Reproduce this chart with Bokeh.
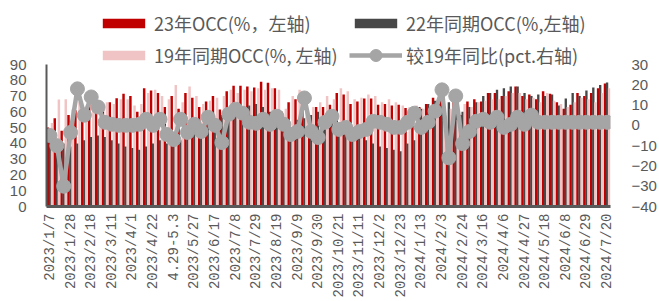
from bokeh.plotting import figure
from bokeh.models import (Range1d, LinearAxis, FixedTicker, Legend, LegendItem,
                          ColumnDataSource)
from bokeh.transform import dodge
from bokeh.embed import file_html
from bokeh.resources import INLINE

tick_labels = ["2023/1/7", "2023/1/28", "2023/2/18", "2023/3/11", "2023/4/1",
               "2023/4/22", "4.29-5.3", "2023/5/27", "2023/6/17", "2023/7/8",
               "2023/7/29", "2023/8/19", "2023/9/9", "2023/9/30", "2023/10/21",
               "2023/11/11", "2023/12/2", "2023/12/23", "2024/1/13", "2024/2/3",
               "2024/2/24", "2024/3/16", "2024/4/6", "2024/4/27", "2024/5/18",
               "2024/6/8", "2024/6/29", "2024/7/20"]

occ_23 = [50, 56, 48, 58, 61, 55, 66, 66, 64, 66, 68.6, 71.5, 70, 60, 75, 73.5, 72, 63,
          70, 62, 72, 69, 63, 66.5, 70, 61.5, 73, 76.5, 76.5, 76, 75.5, 79, 78.5, 75,
          60, 66, 68, 61.5, 55, 63, 63, 64.5, 72, 71, 65, 66.5, 68.5, 68.5, 64.5, 65,
          64, 64.5, 62.5, 51, 63, 65, 69, 70, 45, 68, 58, 66.5, 68, 66.5, 72, 72, 70,
          73, 76, 70, 71, 68, 73, 71.5, 66, 62, 64.5, 72, 70, 72, 75, 78]
occ_22 = [45, 42, 40, 38, 40, 42, 44, 45, 44, 42, 40, 38, 37, 36, 38, 40, 42, 40, 40,
          42, 45, 48, 52, 55, 56, 58, 60, 62, 63, 64, 65, 63, 60, 56, 52, 50, 55, 56,
          58, 60, 58, 55, 52, 50, 48, 45, 42, 40, 38, 37, 36, 35, 40, 42,
          62, 65, 67, 70, 66, 62, 60, 63, 66, 70, 72, 74, 75, 76, 76, 72, 70, 71, 70,
          71, 64, 68.5, 72, 70, 73.5, 75.5, 77, 78.6]
occ_19 = [53, 67.8, 68, 61.5, 66, 57, 66, 65, 66, 65, 68, 68, 64, 65, 72, 74, 70, 68,
          77, 66, 76, 70, 65, 67, 69, 70, 74, 72, 74, 73, 75, 74, 75, 74, 62, 70, 74,
          72, 63, 66, 70, 68, 75, 73, 68, 69, 71, 70, 66, 68, 66, 64, 63, 64,
          62, 64, 66, 55, 62, 55, 65, 63, 66, 67, 68, 68, 70, 72, 72, 68, 69, 66, 72,
          67, 65, 63, 66, 69, 68, 66, 72, 75]
yoy_19 = [-5, -10, -30, -3.5, 18, 5, 14, 9, 1.5, 0.5, 0, 0, 0, 0.5, 3, 0, 3, -4.5, -7,
          3, -3.5, 0.5, -3, 4, 0, -8.5, 5.5, 8, 6, 1.5, 1, 3, 0.5, 4.5, 0.5, -4.5, -3,
          13.5, -3, -6, 1.5, 4.5, -2, -1, -4.5, -3, -2, 2, 1.5, 0.5, -1, -1, 1.5, 6,
          -1, 1.5, 7, 17.5, -16, 14.5, -9, -3, 2, 3, 1.5, 4, -1, 0.5, 4, 0.5, 5,
          1.5, 1.5, 1.5, 1.5, 1.5, 1.5, 1.5, 1.5, 1.5, 1.5, 1.5]

left_ticks = [0, 10, 20, 30, 40, 50, 60, 70, 80, 90]
right_ticks = [-40, -30, -20, -10, 0, 10, 20, 30]

RED = "#C00000"
DARK = "#474747"
PINK = "#F0C4C4"
LINE = "#A5A5A5"
TXT = "#595959"

# frame is 206 px tall; the data part (0..90 / -40..30) is its lower 142 px,
# the upper part holds the legend
FRAME_H, DATA_H = 206.0, 142.0
left_top = left_ticks[-1] * FRAME_H / DATA_H
right_top = right_ticks[0] + (right_ticks[-1] - right_ticks[0]) * FRAME_H / DATA_H

n = len(occ_23)
src = ColumnDataSource(dict(x=list(range(n)), a=occ_23, b=occ_22, c=occ_19, d=yoy_19))

p = figure(width=659, height=301, output_backend="svg", toolbar_location=None,
           x_range=Range1d(-0.5, n - 0.5), y_range=Range1d(0, left_top),
           min_border_left=46, min_border_right=46, min_border_top=0,
           min_border_bottom=95)
p.extra_y_ranges = {"r": Range1d(right_ticks[0], right_top)}
p.outline_line_color = None
p.xgrid.visible = False
p.ygrid.visible = False

r1 = p.vbar(x=dodge("x", -0.3), top="a", width=0.36, source=src,
            fill_color=RED, line_color=None)
r2 = p.vbar(x=dodge("x", 0.0), top="b", width=0.34, source=src,
            fill_color=DARK, line_color=None)
r3 = p.vbar(x=dodge("x", 0.3), top="c", width=0.36, source=src,
            fill_color=PINK, line_color=None)
rl = p.line("x", "d", source=src, y_range_name="r", line_color=LINE, line_width=4.5)
rs = p.scatter("x", "d", source=src, y_range_name="r", size=14,
               fill_color=LINE, line_color=LINE)

# x axis
xa = p.xaxis[0]
xa.ticker = FixedTicker(ticks=list(range(0, n, 3)))
xa.major_label_overrides = {i * 3: lab for i, lab in enumerate(tick_labels)}
xa.major_label_orientation = 1.5707963
xa.major_label_text_font = "Liberation Mono"
xa.major_label_text_font_size = "14px"
xa.major_label_text_color = TXT
xa.major_label_standoff = 1
xa.major_tick_line_color = None
xa.minor_tick_line_color = None
xa.axis_line_color = TXT
xa.axis_line_width = 3

ya = p.yaxis[0]
ya.ticker = FixedTicker(ticks=left_ticks)
ya.bounds = (left_ticks[0], left_ticks[-1])
ya.major_label_text_font = "Liberation Sans"
ya.major_label_text_font_size = "15px"
ya.major_label_text_color = TXT
ya.major_label_standoff = 14
ya.major_tick_line_color = None
ya.minor_tick_line_color = None
ya.axis_line_color = TXT
ya.axis_line_width = 2

ra = LinearAxis(y_range_name="r", ticker=FixedTicker(ticks=right_ticks),
                bounds=(right_ticks[0], right_ticks[-1]))
ra.major_label_overrides = {t: (str(t).replace("-", "\u2212")) for t in right_ticks}
ra.major_label_text_font = "Liberation Sans"
ra.major_label_text_font_size = "15px"
ra.major_label_text_color = TXT
ra.major_label_standoff = 15
ra.major_tick_line_color = None
ra.minor_tick_line_color = None
ra.axis_line_color = None
p.add_layout(ra, "right")


def make_legend(items, loc, gh):
    lg = Legend(items=items, location=loc)
    lg.glyph_width = 53
    lg.glyph_height = gh
    lg.label_height = 28
    lg.label_standoff = 4
    lg.spacing = 4
    lg.padding = 0
    lg.margin = 0
    lg.border_line_color = None
    lg.background_fill_alpha = 0
    lg.label_text_font = "Noto Sans CJK SC"
    lg.label_text_font_size = "18px"
    lg.label_text_color = TXT
    p.add_layout(lg, "center")


make_legend([LegendItem(label="23年OCC(%，左轴)", renderers=[r1]),
             LegendItem(label="19年同期OCC(%, 左轴)", renderers=[r3])], (51, 137), 12)
make_legend([LegendItem(label="22年同期OCC(%,左轴)", renderers=[r2])], (303, 169), 12)
make_legend([LegendItem(label="较19年同比(pct.右轴)", renderers=[rl, rs])], (303, 136), 30)

open("out.html", "w").write(file_html(p, INLINE))
